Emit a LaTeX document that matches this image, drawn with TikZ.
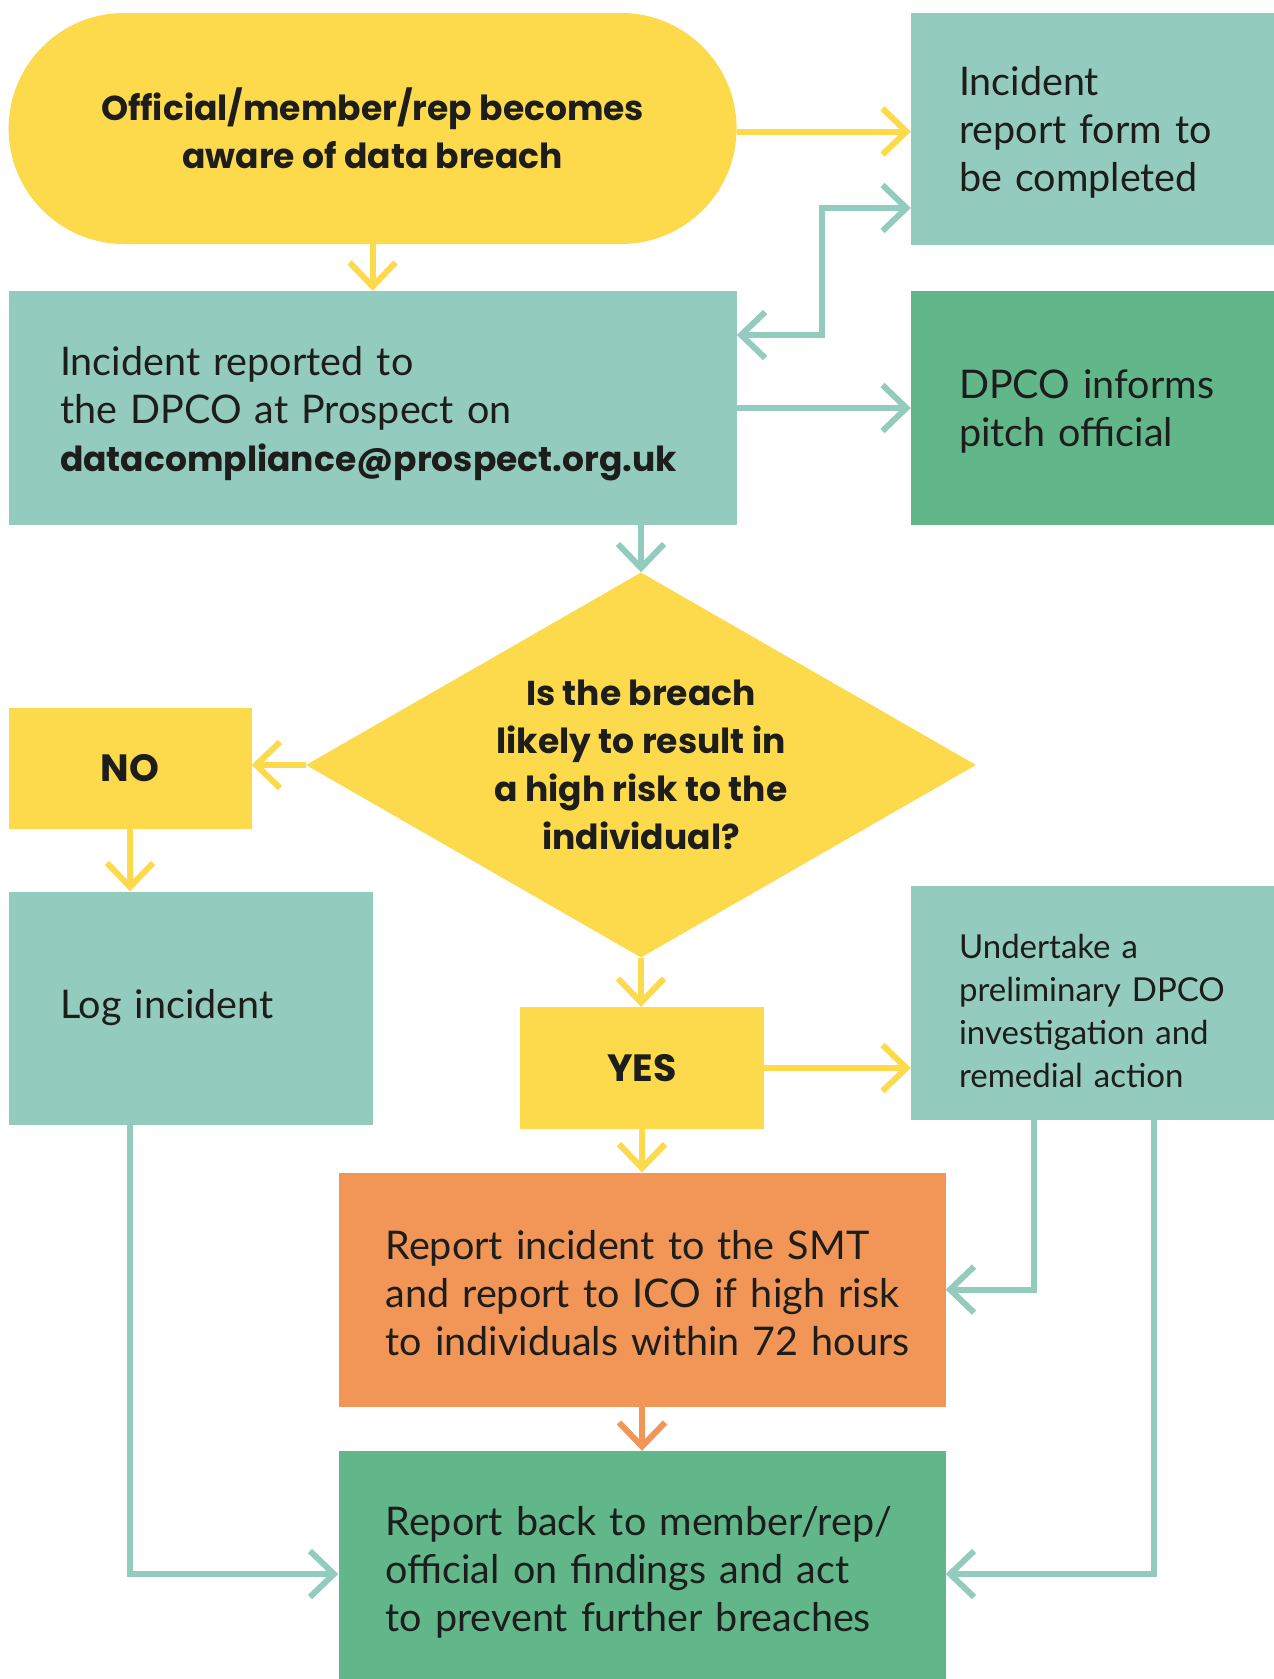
\documentclass[tikz,border=0pt]{standalone}
\usepackage{fontspec}
\setmainfont{Lato}[WordSpace=0.55]
\newfontfamily\boldfam{Poppins}
\usetikzlibrary{arrows.meta,shapes.geometric,shapes.misc}
\definecolor{cyellow}{HTML}{FDD94C}
\definecolor{cteal}{HTML}{94CBBF}
\definecolor{cgreen}{HTML}{61B78A}
\definecolor{corange}{HTML}{F19657}
\definecolor{ctext}{HTML}{1D1D1B}
\newcommand{\regf}{\fontsize{39.5}{48}\selectfont}
\newcommand{\smallf}{\fontsize{33}{43}\selectfont}
\newcommand{\boldf}{\boldfam\bfseries\fontsize{34.5}{48}\selectfont}
\newcommand{\yesnof}{\boldfam\bfseries\fontsize{38}{48}\selectfont}
\newcommand{\nb}[1]{\mbox{#1}}
\newcommand{\tallstrut}[1]{\rule{0pt}{#1}}
\tikzset{
  box/.style={rectangle, inner sep=0pt, text=ctext, font=\regf},
  lbox/.style={box, align=left},
  conn/.style={line width=6pt, -{Straight Barb[length=24pt,width=46pt]}},
  yarr/.style={conn, draw=cyellow},
  tarr/.style={conn, draw=cteal},
  oarr/.style={conn, draw=corange},
  tarrboth/.style={line width=6pt, draw=cteal, {Straight Barb[length=24pt,width=46pt]}-{Straight Barb[length=24pt,width=46pt]}}
}
\begin{document}
\begin{tikzpicture}[x=1pt,y=-1pt]
\fill[white] (0,0) rectangle (1274,1679);
\useasboundingbox (0,0) rectangle (1274,1679);

\node[box, fill=cyellow, rounded rectangle, minimum width=728pt, minimum height=231pt, align=center, font=\boldf] (start) at (372.6,128.5) {Official/member/rep becomes\\aware of data breach};
\node[lbox, fill=cteal, minimum width=363pt, minimum height=232pt, text width=267pt] (form) at (1092.5,129) {\nb{\tallstrut{36.5pt}Incident}\\\nb{report form to}\\\nb{be completed}};
\node[lbox, fill=cteal, minimum width=728pt, minimum height=234pt, text width=625pt] (rep) at (372.6,408) {\nb{\tallstrut{41pt}Incident reported to}\\\nb{the DPCO at Prospect on}\\\nb{\boldf datacompliance@prospect.org.uk}};
\node[lbox, fill=cgreen, minimum width=363pt, minimum height=234pt, text width=267pt] (dpco) at (1092.5,408) {\nb{\tallstrut{35.5pt}DPCO informs}\\\nb{pitch official}};
\node[box, fill=cyellow, diamond, shape aspect=1.74, minimum width=670pt, minimum height=385pt, align=center, font=\boldf] (dia) at (641,765) {Is the breach\\likely to result in\\a high risk to the\\individual?};
\node[box, fill=cyellow, minimum width=243pt, minimum height=121pt, font=\yesnof] (no) at (130,768) {NO};
\node[lbox, fill=cteal, minimum width=364pt, minimum height=233pt, text width=261pt] (log) at (190.6,1008) {\nb{Log incident}};
\node[box, fill=cyellow, minimum width=244pt, minimum height=122pt, font=\yesnof] (yes) at (642,1068) {YES};
\node[lbox, fill=cteal, minimum width=363pt, minimum height=234pt, text width=267pt, font=\smallf] (und) at (1092.5,1003) {\nb{\tallstrut{41pt}Undertake a}\\\nb{preliminary DPCO}\\\nb{investigation and}\\\nb{remedial action}};
\node[lbox, fill=corange, minimum width=607pt, minimum height=234pt, text width=513pt] (or) at (642,1289.6) {\nb{\tallstrut{36pt}Report incident to the SMT}\\\nb{and report to ICO if high risk}\\\nb{to individuals within 72 hours}};
\node[lbox, fill=cgreen, minimum width=607pt, minimum height=228pt, text width=513pt] (gr) at (642,1565) {\nb{\tallstrut{44pt}Report back to member/rep/}\\\nb{official on findings and act}\\\nb{to prevent further breaches}};

\draw[yarr] ([yshift=-3pt]start.east) -- ([yshift=-3pt]start.east -| form.west);
\draw[yarr] (start.south) -- (rep.north);
\draw[tarrboth] ([yshift=73pt]rep.east) -- ++(85.4,0) |- ([yshift=-79pt]form.west);
\draw[tarr] (rep.east) -- (dpco.west);
\draw[tarr] (rep.south -| dia.north) -- (dia.north);
\draw[yarr] (dia.west) -- (dia.west -| no.east);
\draw[yarr] (no.south) -- (log.north -| no.south);
\draw[yarr] (dia.south) -- (yes.north -| dia.south);
\draw[yarr] (yes.east) -- (yes.east -| und.west);
\draw[yarr] (yes.south) -- (or.north -| yes.south);
\draw[tarr] ([xshift=-58.5pt]und.south) |- (or.east);
\draw[tarr] ([xshift=61.5pt]und.south) |- ([yshift=-9pt]gr.east);
\draw[tarr] ([xshift=-61pt]log.south) |- ([yshift=-9pt]gr.west);
\draw[oarr] (or.south) -- (gr.north);
\end{tikzpicture}
\end{document}
